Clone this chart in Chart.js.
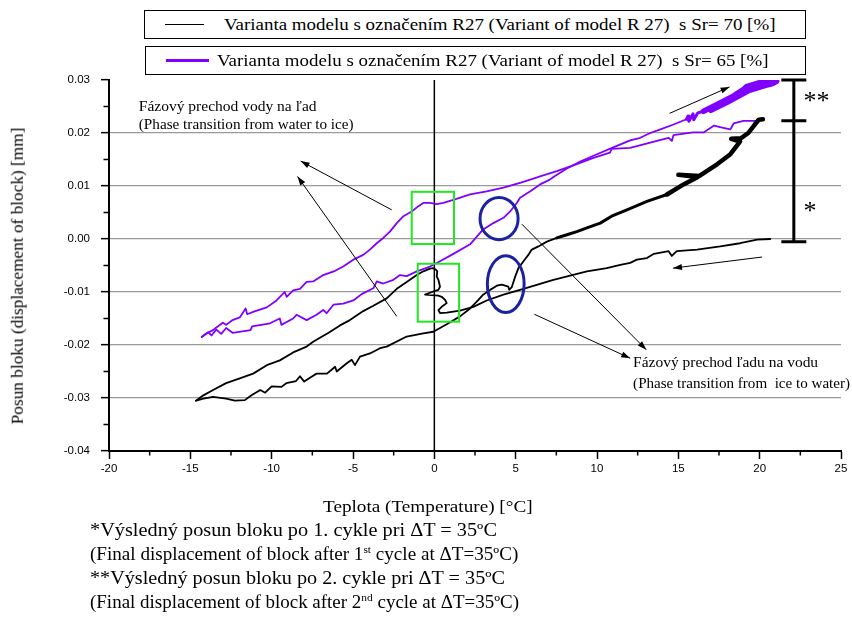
<!DOCTYPE html>
<html>
<head>
<meta charset="utf-8">
<script src="https://cdn.jsdelivr.net/npm/chart.js@4.4.0/dist/chart.umd.min.js"></script>
<style>
  body { margin: 0; background: #fff; }
  #wrap { position: relative; width: 852px; height: 623px; overflow: hidden; background: #fff;
          font-family: "Liberation Serif", "Times New Roman", serif; color: #000; }
  #chart { position: absolute; left: 0; top: 0; }
  .box { position: absolute; border: 1px solid #000; box-sizing: border-box; background: #fff; }
  .key { position: absolute; top: 50%; height: 0; }
  .txt { position: absolute; white-space: nowrap; line-height: 1; transform-origin: 0 50%; }
  sup { font-size: 0.6em; line-height: 0; }
</style>
</head>
<body>
<div id="wrap">
  <canvas id="chart" width="852" height="623"></canvas>

  <div class="box" style="left:144px; top:10px; width:662px; height:29px;">
    <div class="key" style="left:20px; width:39px; border-top:1px solid #000; margin-top:-0.5px;"></div>
    <span class="txt fit" data-w="551" data-s="17.5" style="left:79px; top:50%;">Varianta modelu s označením R27 (Variant of model R 27)&nbsp; s Sr= 70 [%]</span>
  </div>
  <div class="box" style="left:145px; top:46px; width:661px; height:29px;">
    <div class="key" style="left:20px; width:43px; border-top:3px solid #8000ff; margin-top:-1.5px;"></div>
    <span class="txt fit" data-w="551" data-s="17.5" style="left:71px; top:50%;">Varianta modelu s označením R27 (Variant of model R 27)&nbsp; s Sr= 65 [%]</span>
  </div>

  <span id="ytitle" class="txt fit rot" data-w="297" data-s="16.5" style="left:18px; top:276px;">Posun bloku (displacement of block) [mm]</span>
  <span class="txt fit" data-w="210" data-s="17" style="left:323px; top:506px;">Teplota (Temperature) [°C]</span>

  <span class="txt fit" data-w="407" data-s="18" style="left:90px; top:530px;">*Výsledný posun bloku po 1. cykle pri ΔT = 35ºC</span>
  <span class="txt fit" data-w="428" data-s="18" style="left:90px; top:554px;">(Final displacement of block after 1<sup>st</sup> cycle at ΔT=35ºC)</span>
  <span class="txt fit" data-w="415" data-s="18" style="left:90px; top:578px;">**Výsledný posun bloku po 2. cykle pri ΔT = 35ºC</span>
  <span class="txt fit" data-w="429" data-s="18" style="left:90px; top:602px;">(Final displacement of block after 2<sup>nd</sup> cycle at ΔT=35ºC)</span>
</div>

<script>
// axis ticks
const xTickValues = [-20, -15, -10, -5, 0, 5, 10, 15, 20, 25];
const xTickLabels = ['-20', '-15', '-10', '-5', '0', '5', '10', '15', '20', '25'];
const yTickValues = [-0.04, -0.03, -0.02, -0.01, 0, 0.01, 0.02, 0.03];
const yTickLabels = ['-0.04', '-0.03', '-0.02', '-0.01', '0.00', '0.01', '0.02', '0.03'];

// Sr = 70 %, first cycle: cooling from 20 °C, then warming back
const blackCoolTemp = [20.65, 19.84, 18.8, 17.58, 16.15, 14.9, 14.6, 14.4, 13.5, 13.07, 12.45, 12.04, 11.43, 10.6, 9.38,
  7.32, 5.27, 4.25, 3.22, 2.4, 1.58, 0.76, 0.35, 0.25, 0.45, 0.76, 0.66, 0.45, 0.25, -0.57, -0.06, 0.25, 0.35, 0.25,
  0.15, 0.18, 0.10, -0.06, -0.26, -0.68, -1.08, -1.7, -2.31, -2.93, -3.75, -4.37, -5.19, -5.8, -6.5, -7.45, -7.85,
  -8.68, -9.5, -10.3, -11.14, -11.96, -12.8, -13.6, -14.2, -14.65];
const blackCoolDisp = [0.0000, -0.0001, -0.0008, -0.0014, -0.0020, -0.0023, -0.0032, -0.0023, -0.0028, -0.0036, -0.0039,
  -0.0045, -0.0049, -0.0055, -0.0061, -0.0077, -0.0096, -0.0105, -0.0116, -0.0128, -0.0135, -0.0139, -0.0140, -0.0134,
  -0.0128, -0.0121, -0.0115, -0.0109, -0.0107, -0.0105, -0.0099, -0.0096, -0.0090, -0.0077, -0.0071, -0.0061, -0.0058,
  -0.0055, -0.0056, -0.0061, -0.0068, -0.0081, -0.0094, -0.0112, -0.0126, -0.0136, -0.0153, -0.0163, -0.0177, -0.0194,
  -0.0203, -0.0214, -0.0229, -0.0238, -0.0254, -0.0263, -0.0272, -0.0285, -0.0295, -0.0305];
const blackHeatTemp = [-14.65, -14.2, -13.6, -12.8, -12.26, -11.65, -11.24, -10.7, -10.4, -10.0, -9.4, -9.1, -8.5, -8.26,
  -8.0, -7.55, -7.24, -6.6, -6.1, -6.0, -5.4, -5.08, -4.88, -4.57, -3.96, -3.34, -2.93, -1.7, -0.68, -0.06, 0.76, 1.58,
  2.2, 2.71, 3.0, 3.43, 3.84, 4.15, 4.55, 4.6, 4.76, 4.97, 5.17, 5.48, 5.78, 5.99, 6.4, 6.92, 7.53, 8.15, 8.76, 9.38,
  10.2, 10.9, 11.84, 13.07, 14.3, 15.32, 16.2, 15.0, 16.3, 17.38, 18.2, 18.8, 18.25, 18.85, 19.3, 19.7, 19.94, 20.2];
const blackHeatDisp = [-0.0305, -0.0301, -0.0298, -0.0301, -0.0305, -0.0304, -0.0295, -0.0285, -0.0290, -0.0278,
  -0.0279, -0.0272, -0.0268, -0.0259, -0.0269, -0.0260, -0.0254, -0.0254, -0.0241, -0.0250, -0.0235, -0.0228, -0.0238,
  -0.0222, -0.0216, -0.0206, -0.0203, -0.0184, -0.0178, -0.0175, -0.0161, -0.0146, -0.0131, -0.0115, -0.0105, -0.0096,
  -0.0088, -0.0086, -0.0090, -0.0096, -0.0091, -0.0071, -0.0055, -0.0042, -0.0030, -0.0020, -0.0014, -0.0005, 0.0002,
  0.0008, 0.0014, 0.0021, 0.0030, 0.0043, 0.0055, 0.0071, 0.0084, 0.0103, 0.0117, 0.0121, 0.0119, 0.0141, 0.0160,
  0.0184, 0.0189, 0.0190, 0.0200, 0.0216, 0.0225, 0.0226];

// Sr = 65 %, second cycle
const violetCoolTemp = [20.1, 19.84, 19.0, 18.4, 18.2, 17.7, 17.2, 16.55, 15.9, 14.7, 14.6, 14.4, 13.27, 12.04, 10.9,
  10.8, 9.78, 8.55, 7.53, 6.5, 5.9, 5.27, 4.25, 3.22, 2.2, 1.17, 0.55, 0.15, -0.26, -0.68, -0.98, -1.39, -1.9, -2.31,
  -2.73, -3.14, -3.54, -3.96, -4.37, -4.98, -5.6, -6.1, -6.83, -7.45, -7.85, -8.26, -8.68, -9.08, -9.2, -9.7, -10.3,
  -11.1, -11.5, -11.6, -11.96, -12.4, -12.8, -13.0, -13.4, -13.6, -14.0, -14.3];
const violetCoolDisp = [0.0226, 0.0223, 0.0223, 0.0218, 0.0207, 0.0210, 0.0214, 0.0201, 0.0201, 0.0196, 0.0185, 0.0191,
  0.0182, 0.0172, 0.0170, 0.0163, 0.0153, 0.0139, 0.0128, 0.0118, 0.0112, 0.0106, 0.0097, 0.0090, 0.0084, 0.0074,
  0.0068, 0.0066, 0.0068, 0.0068, 0.0062, 0.0052, 0.0043, 0.0030, 0.0014, 0.0002, -0.0008, -0.0020, -0.0030, -0.0039,
  -0.0052, -0.0060, -0.0068, -0.0080, -0.0081, -0.0094, -0.0097, -0.0109, -0.0100, -0.0116, -0.0129, -0.0137, -0.0142,
  -0.0131, -0.0148, -0.0153, -0.0162, -0.0158, -0.0167, -0.0172, -0.0178, -0.0185];
const violetHeatTemp = [-14.3, -13.9, -13.7, -13.4, -13.1, -12.8, -12.4, -11.3, -11.2, -10.1, -9.5, -9.4, -8.68, -8.47,
  -7.85, -7.24, -6.83, -6.62, -6.2, -5.6, -4.98, -4.47, -3.75, -3.54, -3.14, -2.52, -2.11, -1.7, -1.08, -0.26, 0.35,
  1.17, 2.2, 3.0, 3.63, 4.25, 4.66, 5.07, 5.27, 5.9, 6.5, 7.1, 7.32, 8.15, 8.97, 9.78, 11.0, 12.04, 12.66, 13.27, 13.9,
  14.7, 15.5, 15.6, 15.65, 15.9, 15.95, 16.2, 16.55, 17.38, 18.4, 19.2, 20.25, 20.86, 19.5, 18.0, 17.0, 18.2, 19.6,
  21.0, 20.6];
const violetHeatDisp = [-0.0185, -0.0176, -0.0182, -0.0171, -0.0179, -0.0168, -0.0177, -0.0172, -0.0165, -0.0159,
  -0.0150, -0.0162, -0.0150, -0.0143, -0.0153, -0.0143, -0.0134, -0.0140, -0.0124, -0.0122, -0.0116, -0.0104, -0.0093,
  -0.0080, -0.0084, -0.0077, -0.0068, -0.0070, -0.0061, -0.0052, -0.0042, -0.0028, -0.0010, 0.0018, 0.0030, 0.0040,
  0.0052, 0.0068, 0.0078, 0.0090, 0.0103, 0.0112, 0.0117, 0.0133, 0.0146, 0.0157, 0.0173, 0.0186, 0.0191, 0.0200,
  0.0207, 0.0216, 0.0226, 0.0232, 0.0222, 0.0236, 0.0225, 0.0238, 0.0241, 0.0254, 0.0270, 0.0286, 0.0296, 0.0296,
  0.0283, 0.0258, 0.0243, 0.0262, 0.0287, 0.0298, 0.0293];

const VIOLET = '#8000ff';

// squeeze the html labels to their widths, like the narrow serif in the print
document.querySelectorAll('.fit').forEach(el => {
  el.style.fontSize = el.dataset.s + 'px';
  const k = (+el.dataset.w) / el.offsetWidth;
  el.style.transform = el.classList.contains('rot')
    ? 'translate(-50%,-50%) rotate(-90deg) scaleX(' + k.toFixed(4) + ')'
    : 'translateY(-50%) scaleX(' + k.toFixed(4) + ')';
  if (el.classList.contains('rot')) el.style.transformOrigin = '50% 50%';
});

function pts(t, d) {
  return t.map((x, i) => ({ x: x, y: d[i] }));
}

// note shapes, in axis units
const greenBoxes = [[-1.39, 0.0089, 1.21, -0.00095], [-1.02, -0.00467, 1.52, -0.0156]];
const blueRings = [[3.98, 0.00384, 1.17, 0.00397], [4.39, -0.0085, 1.13, 0.00535]];
const arrows = [
  [-2.62, 0.0055, -8.22, 0.0147],
  [-2.31, -0.0146, -8.41, 0.0118],
  [14.46, 0.0237, 18.15, 0.0287],
  [20.15, -0.0034, 14.67, -0.0055],
  [5.38, 0.0028, 13.03, -0.0209],
  [6.15, -0.0142, 12.04, -0.0225]
];
const notes = [
  ['Fázový prechod vody na ľad', -18.17, 0.02484, 178],
  ['(Phase transition from water to ice)', -18.17, 0.0215, 215],
  ['Fázový prechod ľadu na vodu', 12.22, -0.0234, 185],
  ['(Phase transition from  ice to water)', 12.22, -0.0274, 217]
];

function drawArrow(ctx, x1, y1, x2, y2) {
  ctx.beginPath();
  ctx.moveTo(x1, y1);
  ctx.lineTo(x2, y2);
  ctx.stroke();
  const a = Math.atan2(y2 - y1, x2 - x1), L = 9, W = 3;
  ctx.beginPath();
  ctx.moveTo(x2, y2);
  ctx.lineTo(x2 - L * Math.cos(a) + W * Math.sin(a), y2 - L * Math.sin(a) - W * Math.cos(a));
  ctx.lineTo(x2 - L * Math.cos(a) - W * Math.sin(a), y2 - L * Math.sin(a) + W * Math.cos(a));
  ctx.closePath();
  ctx.fill();
}

const extras = {
  id: 'extras',
  beforeDatasetsDraw(chart) {
    const { ctx, scales: { x, y } } = chart;
    // vertical line at 0 °C
    ctx.save();
    ctx.strokeStyle = '#000';
    ctx.lineWidth = 1.5;
    ctx.beginPath();
    ctx.moveTo(x.getPixelForValue(0), y.top);
    ctx.lineTo(x.getPixelForValue(0), y.bottom);
    ctx.stroke();
    ctx.restore();
  },
  afterDatasetsDraw(chart) {
    const { ctx, scales: { x, y } } = chart;
    const px = v => x.getPixelForValue(v), py = v => y.getPixelForValue(v);
    ctx.save();

    // minor ticks
    ctx.strokeStyle = '#000';
    ctx.lineWidth = 1.5;
    ctx.beginPath();
    for (let v = -17.5; v < 25; v += 5) {
      ctx.moveTo(px(v), y.bottom);
      ctx.lineTo(px(v), y.bottom + 4.5);
    }
    for (let v = -0.035; v < 0.03; v += 0.01) {
      ctx.moveTo(x.left - 5.5, py(v));
      ctx.lineTo(x.left, py(v));
    }
    ctx.stroke();

    // green boxes
    ctx.strokeStyle = '#22e822';
    ctx.lineWidth = 2;
    greenBoxes.forEach(b => {
      ctx.strokeRect(px(b[0]), py(b[1]), px(b[2]) - px(b[0]), py(b[3]) - py(b[1]));
    });

    // blue rings
    ctx.strokeStyle = '#1a22a0';
    ctx.lineWidth = 3;
    blueRings.forEach(r => {
      ctx.beginPath();
      ctx.ellipse(px(r[0]), py(r[1]), px(r[0] + r[2]) - px(r[0]), py(r[1]) - py(r[1] + r[3]), 0, 0, Math.PI * 2);
      ctx.stroke();
    });

    // arrows
    ctx.strokeStyle = '#000';
    ctx.fillStyle = '#000';
    ctx.lineWidth = 1;
    arrows.forEach(a => drawArrow(ctx, px(a[0]), py(a[1]), px(a[2]), py(a[3])));

    // notes
    ctx.textBaseline = 'middle';
    ctx.textAlign = 'left';
    notes.forEach(n => {
      ctx.font = '14px "Liberation Serif"';
      const s = 14 * n[3] / ctx.measureText(n[0]).width;
      ctx.font = s.toFixed(2) + 'px "Liberation Serif"';
      ctx.fillText(n[0], px(n[1]), py(n[2]));
    });

    // bracket for the final displacements
    const bx = px(22.1);
    ctx.lineWidth = 3;
    ctx.beginPath();
    ctx.moveTo(bx, py(0.0300));
    ctx.lineTo(bx, py(-0.0005));
    [0.0300, 0.0223, -0.0005].forEach(v => {
      ctx.moveTo(bx - 12.5, py(v));
      ctx.lineTo(bx + 12.5, py(v));
    });
    ctx.stroke();
    ctx.font = '26px "Liberation Serif"';
    ctx.textBaseline = 'alphabetic';
    ctx.fillText('**', px(22.7), py(0.0269) + 13);
    ctx.fillText('*', px(22.7), py(0.0062) + 13);

    ctx.restore();
  }
};

const lineBase = { showLine: true, pointRadius: 0, borderWidth: 1.8, tension: 0, borderJoinStyle: 'round', borderCapStyle: 'round' };

new Chart(document.getElementById('chart'), {
  type: 'scatter',
  data: {
    datasets: [
      Object.assign({}, lineBase, { data: pts(blackCoolTemp, blackCoolDisp), borderColor: '#000' }),
      Object.assign({}, lineBase, {
        data: pts(blackHeatTemp, blackHeatDisp), borderColor: '#000',
        segment: {
          borderWidth: c => {
            const m = Math.min(c.p0.parsed.x, c.p1.parsed.x);
            return m >= 13.5 ? 4.5 : m >= 7.5 ? 3 : 1.8;
          }
        }
      }),
      Object.assign({}, lineBase, { data: pts(violetCoolTemp, violetCoolDisp), borderColor: VIOLET }),
      Object.assign({}, lineBase, {
        data: pts(violetHeatTemp, violetHeatDisp), borderColor: VIOLET,
        segment: {
          borderWidth: c => {
            const m = Math.min(c.p0.parsed.x, c.p1.parsed.x);
            return m >= 18.5 ? 7 : m >= 16.5 ? 5.5 : m >= 15 ? 3 : 1.8;
          }
        }
      })
    ]
  },
  options: {
    responsive: false,
    devicePixelRatio: 1,
    animation: false,
    layout: { padding: { top: 80, right: 11, left: 0, bottom: 0 } },
    plugins: { legend: { display: false }, tooltip: { enabled: false } },
    scales: {
      x: {
        type: 'linear', min: -20, max: 25,
        afterFit: s => { s.height = 172; },
        afterBuildTicks: s => { s.ticks = xTickValues.map(v => ({ value: v })); },
        ticks: {
          callback: (v, i) => xTickLabels[i],
          color: '#000', padding: 3, maxRotation: 0,
          font: { family: 'Liberation Sans', size: 11.5 }
        },
        grid: { drawOnChartArea: false, drawTicks: true, tickLength: 8, tickColor: '#000', tickWidth: 1.5 },
        border: { display: true, color: '#000', width: 2 }
      },
      y: {
        type: 'linear', min: -0.04, max: 0.03,
        afterFit: s => { s.width = 109; },
        afterBuildTicks: s => { s.ticks = yTickValues.map(v => ({ value: v })); },
        ticks: {
          callback: (v, i) => yTickLabels[i],
          color: '#000', padding: 11,
          font: { family: 'Liberation Sans', size: 11.5 }
        },
        grid: {
          color: c => (c.tick && (Math.abs(c.tick.value - 0.03) < 1e-9 || Math.abs(c.tick.value + 0.04) < 1e-9)) ? 'rgba(0,0,0,0)' : '#9a9a9a',
          lineWidth: 1.3, tickLength: 8, tickColor: '#000', tickWidth: 1.5
        },
        border: { display: true, color: '#000', width: 2 }
      }
    }
  },
  plugins: [extras]
});
</script>
</body>
</html>
